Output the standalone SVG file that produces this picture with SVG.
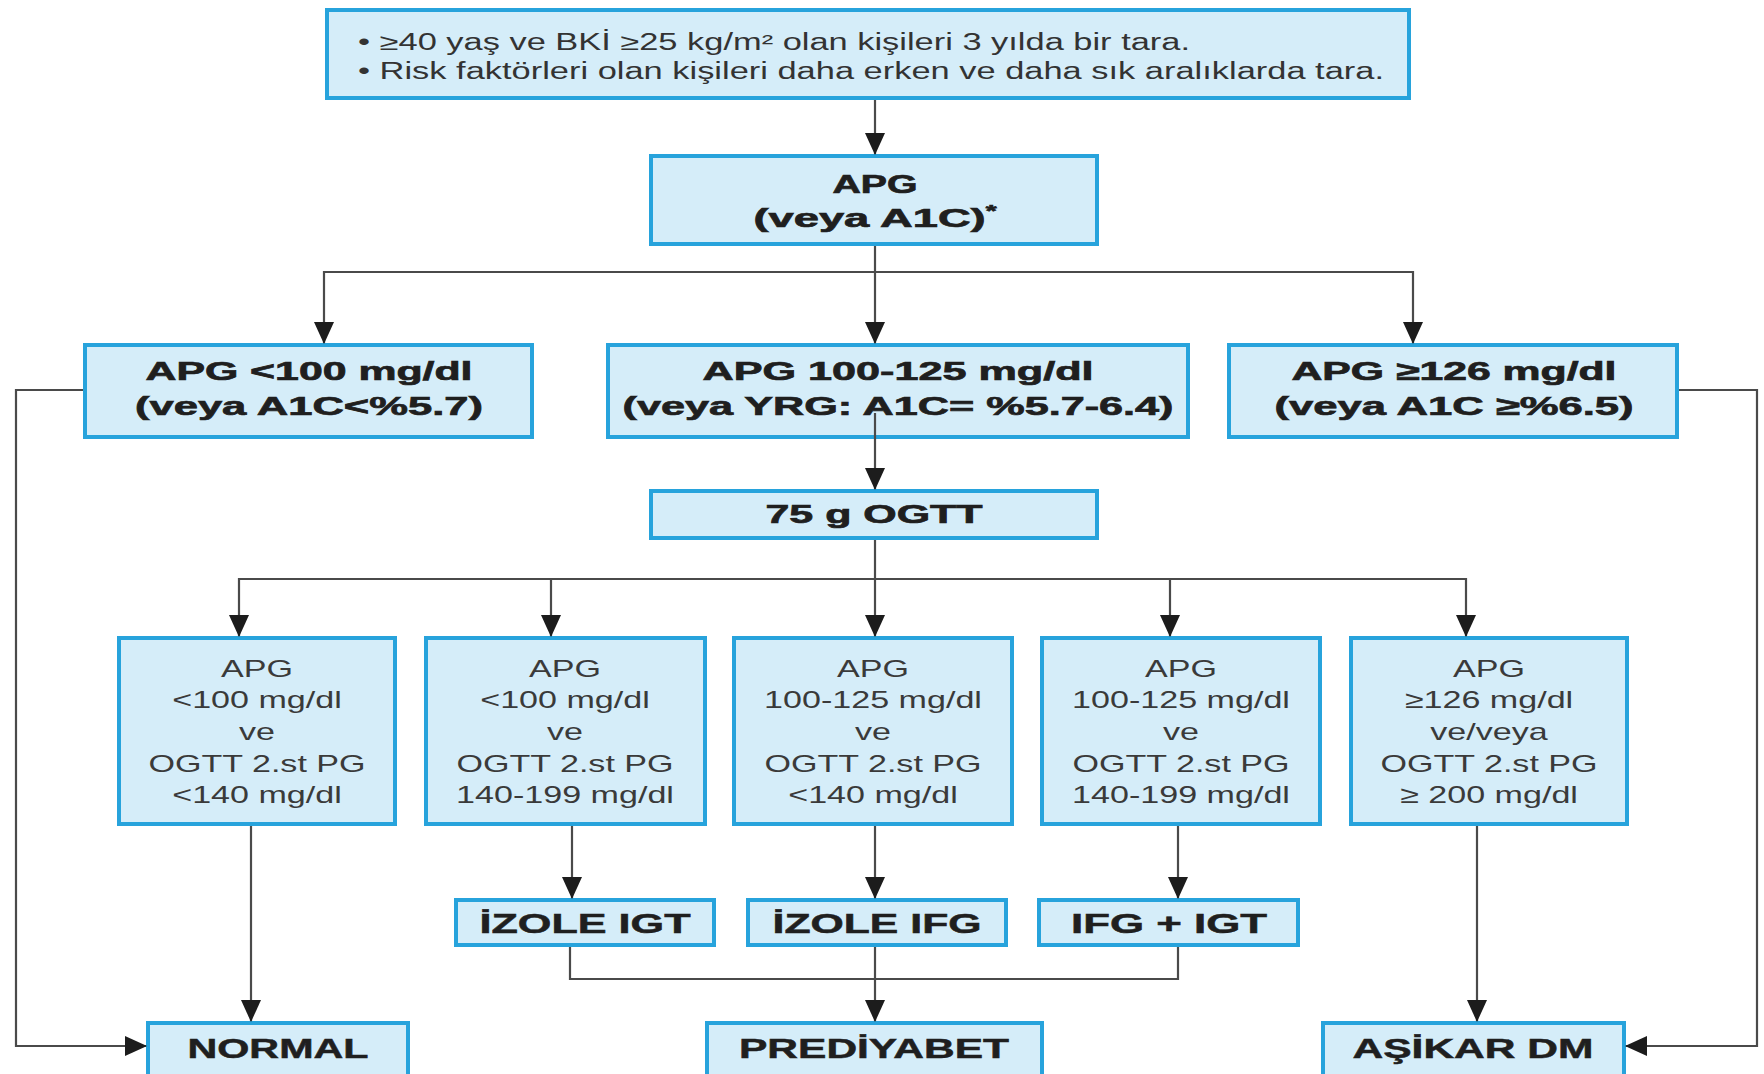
<svg xmlns="http://www.w3.org/2000/svg" width="1764" height="1074" viewBox="0 0 1764 1074">
<defs>
<marker id="ah" markerUnits="userSpaceOnUse" markerWidth="22" markerHeight="22" refX="21" refY="10" orient="auto">
<path d="M0,0 L22,10 L0,20 z" fill="#1c1c1c"/>
</marker>
<style>
.box{fill:#d5edf9;stroke:#27a3dc;stroke-width:4}
.conn{fill:none;stroke:#4a4a4a;stroke-width:2.2}
.arr{marker-end:url(#ah)}
.hb{font-family:"Liberation Sans",Arial,sans-serif;font-weight:bold;font-size:26px;fill:#1f1f1f;stroke:#1f1f1f;stroke-width:0.7;text-anchor:middle}
.hf{font-family:"Liberation Sans",Arial,sans-serif;font-weight:bold;font-size:27px;fill:#1f1f1f;stroke:#1f1f1f;stroke-width:0.5;text-anchor:middle}
.rg{font-family:"Liberation Sans",Arial,sans-serif;font-size:24px;fill:#3a3a3a;text-anchor:middle}
.tp{font-family:"Liberation Sans",Arial,sans-serif;font-size:23px;fill:#333}
</style>
</defs>
<rect width="1764" height="1074" fill="#ffffff"/>

<g id="n_screen">
<rect class="box" x="327" y="10" width="1082" height="88"/>
<text class="tp" x="358" y="50" textLength="832" lengthAdjust="spacingAndGlyphs">• ≥40 yaş ve BKİ ≥25 kg/m² olan kişileri 3 yılda bir tara.</text>
<text class="tp" x="358" y="79" textLength="1026" lengthAdjust="spacingAndGlyphs">• Risk faktörleri olan kişileri daha erken ve daha sık aralıklarda tara.</text>
</g>

<g id="n_apg">
<rect class="box" x="651" y="156" width="446" height="88"/>
<text class="hb" x="875" y="193" textLength="85" lengthAdjust="spacingAndGlyphs">APG</text>
<text class="hb" x="875" y="227" textLength="243" lengthAdjust="spacingAndGlyphs">(veya A1C)<tspan font-size="16" dy="-10">*</tspan></text>
</g>

<g id="n_low">
<rect class="box" x="85" y="345" width="447" height="92"/>
<text class="hb" x="309" y="380" textLength="327" lengthAdjust="spacingAndGlyphs">APG &lt;100 mg/dl</text>
<text class="hb" x="309" y="415" textLength="348" lengthAdjust="spacingAndGlyphs">(veya A1C&lt;%5.7)</text>
</g>

<g id="n_mid">
<rect class="box" x="608" y="345" width="580" height="92"/>
<text class="hb" x="898" y="380" textLength="391" lengthAdjust="spacingAndGlyphs">APG 100-125 mg/dl</text>
<text class="hb" x="898" y="415" textLength="551" lengthAdjust="spacingAndGlyphs">(veya YRG: A1C= %5.7-6.4)</text>
</g>

<g id="n_high">
<rect class="box" x="1229" y="345" width="448" height="92"/>
<text class="hb" x="1454" y="380" textLength="325" lengthAdjust="spacingAndGlyphs">APG ≥126 mg/dl</text>
<text class="hb" x="1454" y="415" textLength="359" lengthAdjust="spacingAndGlyphs">(veya A1C ≥%6.5)</text>
</g>

<g id="n_ogtt">
<rect class="box" x="651" y="491" width="446" height="47"/>
<text class="hb" x="874" y="523" textLength="217" lengthAdjust="spacingAndGlyphs">75 g OGTT</text>
</g>

<g id="n_r1">
<rect class="box" x="119" y="638" width="276" height="186"/>
<g transform="translate(257,0) scale(1.42,1)">
<text class="rg" x="0" y="677">APG</text>
<text class="rg" x="0" y="708">&lt;100 mg/dl</text>
<text class="rg" x="0" y="740">ve</text>
<text class="rg" x="0" y="772">OGTT 2.st PG</text>
<text class="rg" x="0" y="803">&lt;140 mg/dl</text>
</g>
</g>

<g id="n_r2">
<rect class="box" x="426" y="638" width="279" height="186"/>
<g transform="translate(565,0) scale(1.42,1)">
<text class="rg" x="0" y="677">APG</text>
<text class="rg" x="0" y="708">&lt;100 mg/dl</text>
<text class="rg" x="0" y="740">ve</text>
<text class="rg" x="0" y="772">OGTT 2.st PG</text>
<text class="rg" x="0" y="803">140-199 mg/dl</text>
</g>
</g>

<g id="n_r3">
<rect class="box" x="734" y="638" width="278" height="186"/>
<g transform="translate(873,0) scale(1.42,1)">
<text class="rg" x="0" y="677">APG</text>
<text class="rg" x="0" y="708">100-125 mg/dl</text>
<text class="rg" x="0" y="740">ve</text>
<text class="rg" x="0" y="772">OGTT 2.st PG</text>
<text class="rg" x="0" y="803">&lt;140 mg/dl</text>
</g>
</g>

<g id="n_r4">
<rect class="box" x="1042" y="638" width="278" height="186"/>
<g transform="translate(1181,0) scale(1.42,1)">
<text class="rg" x="0" y="677">APG</text>
<text class="rg" x="0" y="708">100-125 mg/dl</text>
<text class="rg" x="0" y="740">ve</text>
<text class="rg" x="0" y="772">OGTT 2.st PG</text>
<text class="rg" x="0" y="803">140-199 mg/dl</text>
</g>
</g>

<g id="n_r5">
<rect class="box" x="1351" y="638" width="276" height="186"/>
<g transform="translate(1489,0) scale(1.42,1)">
<text class="rg" x="0" y="677">APG</text>
<text class="rg" x="0" y="708">≥126 mg/dl</text>
<text class="rg" x="0" y="740">ve/veya</text>
<text class="rg" x="0" y="772">OGTT 2.st PG</text>
<text class="rg" x="0" y="803">≥ 200 mg/dl</text>
</g>
</g>

<g id="n_igt">
<rect class="box" x="456" y="900" width="258" height="45"/>
<text class="hf" x="585" y="933" textLength="211" lengthAdjust="spacingAndGlyphs">İZOLE IGT</text>
</g>

<g id="n_ifg">
<rect class="box" x="748" y="900" width="258" height="45"/>
<text class="hf" x="877" y="933" textLength="209" lengthAdjust="spacingAndGlyphs">İZOLE IFG</text>
</g>

<g id="n_both">
<rect class="box" x="1039" y="900" width="259" height="45"/>
<text class="hf" x="1169" y="933" textLength="196" lengthAdjust="spacingAndGlyphs">IFG + IGT</text>
</g>

<g id="n_normal">
<rect class="box" x="148" y="1023" width="260" height="70"/>
<text class="hf" x="278" y="1058" textLength="181" lengthAdjust="spacingAndGlyphs">NORMAL</text>
</g>

<g id="n_pre">
<rect class="box" x="707" y="1023" width="335" height="70"/>
<text class="hf" x="874" y="1058" textLength="270" lengthAdjust="spacingAndGlyphs">PREDİYABET</text>
</g>

<g id="n_dm">
<rect class="box" x="1323" y="1023" width="301" height="70"/>
<text class="hf" x="1473" y="1058" textLength="241" lengthAdjust="spacingAndGlyphs">AŞİKAR DM</text>
</g>

<g id="connectors">
<path class="conn arr" d="M875,100 V154"/>
<path class="conn arr" d="M875,246 V343"/>
<path class="conn arr" d="M875,272 H324 V343"/>
<path class="conn arr" d="M875,272 H1413 V343"/>
<path class="conn arr" d="M83,390 H16 V1046 H146"/>
<path class="conn arr" d="M1679,390 H1757 V1046 H1626"/>
<path class="conn arr" d="M875,413 V489"/>
<path class="conn arr" d="M875,540 V636"/>
<path class="conn arr" d="M875,579 H239 V636"/>
<path class="conn arr" d="M875,579 H551 V636"/>
<path class="conn arr" d="M875,579 H1170 V636"/>
<path class="conn arr" d="M875,579 H1466 V636"/>
<path class="conn arr" d="M251,826 V1021"/>
<path class="conn arr" d="M572,826 V898"/>
<path class="conn arr" d="M875,826 V898"/>
<path class="conn arr" d="M1178,826 V898"/>
<path class="conn arr" d="M1477,826 V1021"/>
<path class="conn" d="M570,947 V979 H1178 V947"/>
<path class="conn arr" d="M875,947 V1021"/>
</g>
</svg>
